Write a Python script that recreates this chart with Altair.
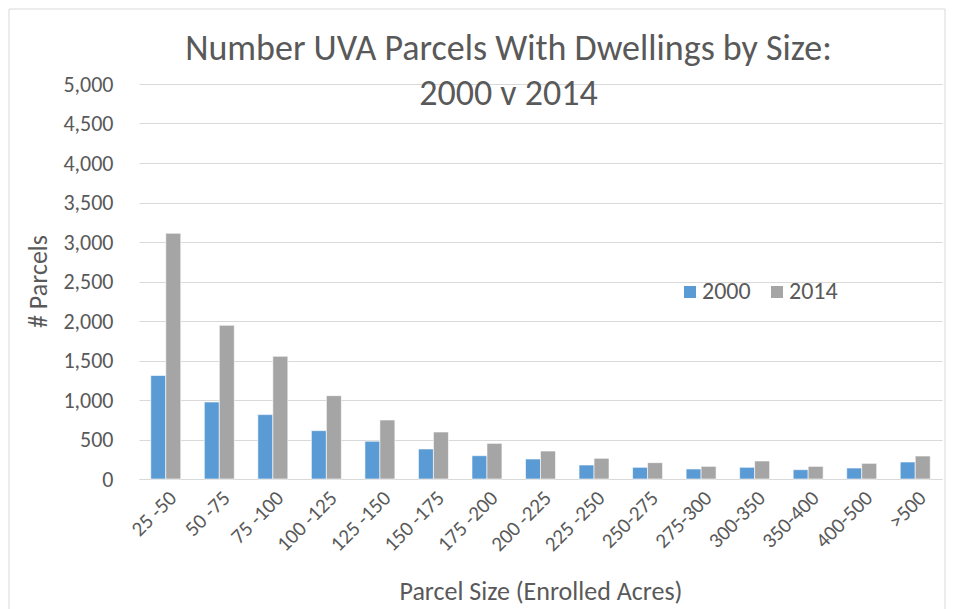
import altair as alt
import pandas as pd

cats = ["25 -50", "50 -75", "75 -100", "100 -125", "125 -150", "150 -175", "175 -200",
        "200 -225", "225 -250", "250-275", "275-300", "300-350", "350-400", "400-500", ">500"]
v2000 = [1310, 975, 815, 612, 478, 380, 295, 253, 177, 148, 127, 148, 118, 139, 215]
v2014 = [3110, 1945, 1553, 1055, 747, 595, 451, 354, 262, 207, 160, 228, 160, 198, 291]
years = ["2000", "2014"]
colors = ["#5B9BD5", "#A5A5A5"]
yticks = list(range(0, 5001, 500))

rows = []
for c, a, b in zip(cats, v2000, v2014):
    rows.append({"cat": c, "year": years[0], "val": a})
    rows.append({"cat": c, "year": years[1], "val": b})
df = pd.DataFrame(rows)

FONT = "Carlito, Lato, sans-serif"
GREY = "#595959"

bars = alt.Chart(df).mark_bar(stroke="white", strokeWidth=0.6).encode(
    x=alt.X("cat:N", sort=cats,
            scale=alt.Scale(paddingInner=0.44, paddingOuter=0.22),
            axis=alt.Axis(title="Parcel Size (Enrolled Acres)", labelAngle=-45,
                          labelFontSize=21, labelColor=GREY, labelFont=FONT,
                          ticks=False, domainColor="#d9d9d9", labelPadding=8,
                          titleFontSize=26, titleColor=GREY, titleFont=FONT,
                          titleFontWeight="normal", titleY=120,
                          titleBaseline="alphabetic")),
    xOffset=alt.XOffset("year:N", scale=alt.Scale(paddingInner=0, paddingOuter=0)),
    y=alt.Y("val:Q", scale=alt.Scale(domain=[0, 5000]),
            axis=alt.Axis(title="# Parcels", values=yticks, format=",.0f",
                          labelFontSize=22, labelColor=GREY, labelFont=FONT,
                          ticks=False, domain=False, gridColor="#d9d9d9",
                          labelPadding=26, titleFontSize=26, titleColor=GREY,
                          titleFont=FONT, titleFontWeight="normal",
                          titleX=-101, titleY=197, titleAngle=-90,
                          titleAlign="center", titleBaseline="middle")),
    color=alt.Color("year:N", scale=alt.Scale(domain=years, range=colors),
                    legend=alt.Legend(title=None, orient="none", legendX=539,
                                      legendY=196, direction="horizontal",
                                      labelFontSize=24, labelColor=GREY,
                                      labelFont=FONT, symbolType="square",
                                      symbolSize=144, symbolStrokeWidth=0,
                                      columnPadding=14, labelOffset=0)),
)

frame = alt.Chart(pd.DataFrame({"a": [0]})).mark_rect(
    fill=None, stroke="#d9d9d9", strokeWidth=1, clip=False
).encode(x=alt.value(-130), x2=alt.value(806), y=alt.value(-75), y2=alt.value(560))

chart = alt.layer(frame, bars).properties(
    width=803, height=395,
    autosize=alt.AutoSizeParams(type="none"),
    padding={"left": 131, "top": 76, "right": 4, "bottom": 140},
    title=alt.TitleParams(
        text=["Number UVA Parcels With Dwellings by Size:", "2000 v 2014"],
        fontSize=36, lineHeight=45, color=GREY, font=FONT, fontWeight="normal",
        anchor="middle", dx=-32, offset=-30, dy=74),
).configure_view(stroke=None)

chart.save("out.html", embed_options={"renderer": "svg", "actions": False})
